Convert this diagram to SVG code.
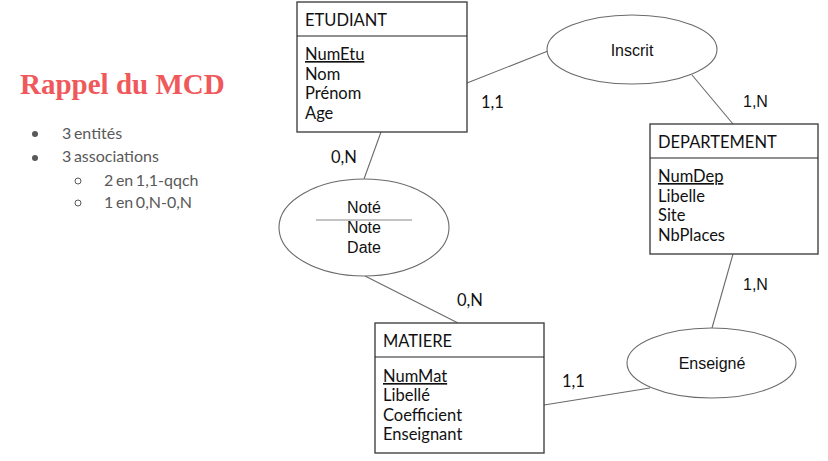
<svg xmlns="http://www.w3.org/2000/svg" width="828" height="461" viewBox="0 0 828 461">
<style>
.box{fill:#fff;stroke:#444;stroke-width:1.4}
.sep{stroke:#222;stroke-width:1.2}
.ell{fill:#fff;stroke:#6a6a6a;stroke-width:1.1}
.con{stroke:#6a6a6a;stroke-width:1.1;fill:none}
.t{font-family:Lato,"Open Sans","Liberation Sans",sans-serif;font-size:16.5px;fill:#111}
.a{font-family:"Liberation Sans",Arial,sans-serif;font-size:16px;fill:#111}
.card{font-family:Lato,"Open Sans","Liberation Sans",sans-serif;font-size:16.5px;fill:#111}
.bl{font-family:Lato,"Open Sans","Liberation Sans",sans-serif;font-size:16px;word-spacing:-1.5px;fill:#595959}
.u{text-decoration:underline}
</style>
<rect width="828" height="461" fill="#fff"/>
<g id="intro">
<text x="20" y="94" font-family="'Liberation Serif','DejaVu Serif',serif" font-weight="bold" font-size="29" fill="#f0595b">Rappel du MCD</text>
<circle cx="35" cy="134" r="3" fill="#595959"/>
<text class="bl" x="62" y="139">3 entités</text>
<circle cx="35" cy="158" r="3" fill="#595959"/>
<text class="bl" x="62" y="162">3 associations</text>
<circle cx="78" cy="181" r="3" fill="none" stroke="#595959" stroke-width="1"/>
<text class="bl" x="104" y="186">2 en 1,1-qqch</text>
<circle cx="78" cy="203" r="3" fill="none" stroke="#595959" stroke-width="1"/>
<text class="bl" x="104" y="208">1 en 0,N-0,N</text>
</g>
<g id="connectors">
<line class="con" x1="467" y1="83" x2="548" y2="51"/>
<line class="con" x1="692" y1="75" x2="733" y2="124"/>
<line class="con" x1="381" y1="132" x2="364" y2="179"/>
<line class="con" x1="365" y1="276" x2="458" y2="323"/>
<line class="con" x1="733" y1="254" x2="712" y2="328"/>
<line class="con" x1="650" y1="388" x2="544" y2="405"/>
<text class="card" x="481" y="108">1,1</text>
<text class="a" x="743" y="107">1,N</text>
<text class="card" x="331" y="163">0,N</text>
<text class="card" x="457" y="306">0,N</text>
<text class="a" x="743" y="290">1,N</text>
<text class="card" x="562" y="387">1,1</text>
</g>
<g id="etudiant">
<rect class="box" x="297" y="2" width="170" height="130"/>
<line class="sep" x1="297" y1="36" x2="467" y2="36"/>
<text class="t" x="305" y="26">ETUDIANT</text>
<text class="t u" x="305" y="60">NumEtu</text>
<text class="t" x="305" y="80">Nom</text>
<text class="t" x="305" y="99">Prénom</text>
<text class="t" x="305" y="119">Age</text>
</g>
<g id="departement">
<rect class="box" x="650" y="124" width="168" height="130"/>
<line class="sep" x1="650" y1="158" x2="818" y2="158"/>
<text class="t" x="658" y="148">DEPARTEMENT</text>
<text class="t u" x="658" y="182">NumDep</text>
<text class="t" x="658" y="202">Libelle</text>
<text class="t" x="658" y="221">Site</text>
<text class="t" x="658" y="241">NbPlaces</text>
</g>
<g id="matiere">
<rect class="box" x="375" y="323" width="169" height="130"/>
<line class="sep" x1="375" y1="357" x2="544" y2="357"/>
<text class="t" x="383" y="347">MATIERE</text>
<text class="t u" x="383" y="382">NumMat</text>
<text class="t" x="383" y="401">Libellé</text>
<text class="t" x="383" y="421">Coefficient</text>
<text class="t" x="383" y="440">Enseignant</text>
</g>
<g id="inscrit">
<ellipse class="ell" cx="632" cy="49.5" rx="85" ry="34.5"/>
<text class="a" x="632" y="56" text-anchor="middle">Inscrit</text>
</g>
<g id="note">
<ellipse class="ell" cx="364" cy="227.5" rx="85" ry="48.5"/>
<text class="a" x="364" y="213" text-anchor="middle">Noté</text>
<line x1="316" y1="220" x2="412" y2="220" stroke="#888" stroke-width="1"/>
<text class="a" x="364" y="233" text-anchor="middle">Note</text>
<text class="a" x="364" y="253" text-anchor="middle">Date</text>
</g>
<g id="enseigne">
<ellipse class="ell" cx="711.5" cy="363" rx="84.5" ry="35"/>
<text class="a" x="712" y="369" text-anchor="middle">Enseigné</text>
</g>
</svg>
